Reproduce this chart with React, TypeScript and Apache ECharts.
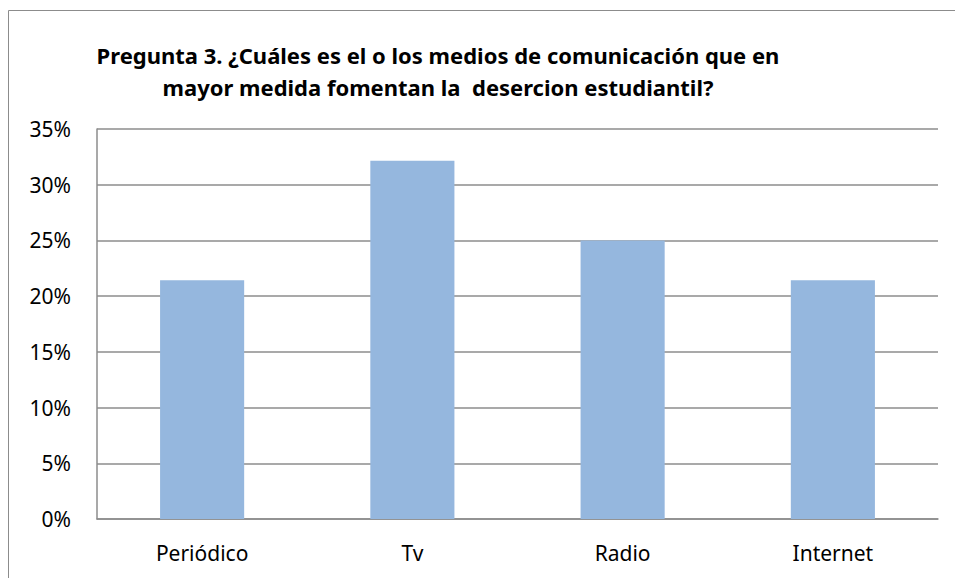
import React, { useEffect, useRef } from "react";
import * as echarts from "echarts";

const categories = ["Periódico", "Tv", "Radio", "Internet"];
const values = [21.43, 32.14, 25.0, 21.43];
const titleLines = [
  "Pregunta 3. ¿Cuáles es el o los medios de comunicación que en",
  "mayor medida fomentan la  desercion estudiantil?",
];

export default function App() {
  const ref = useRef<HTMLDivElement>(null);
  useEffect(() => {
    const chart = echarts.init(ref.current!, null, { renderer: "svg" });
    chart.setOption({
      animation: false,
      backgroundColor: "#ffffff",
      textStyle: { fontFamily: "Noto Sans" },
      graphic: [
        {
          type: "rect",
          shape: { x: 8.5, y: 10.5, width: 1000, height: 1000 },
          style: { fill: "none", stroke: "#8c8c8c", lineWidth: 1 },
          silent: true,
        },
      ],
      title: {
        text: titleLines.join("\n"),
        left: 433,
        top: 34,
        textAlign: "center",
        textStyle: {
          fontFamily: "Noto Sans",
          fontWeight: "bold",
          fontSize: 22,
          lineHeight: 32,
          color: "#000000",
        },
      },
      grid: { left: 97, right: 17, top: 129, bottom: 59, containLabel: false },
      xAxis: {
        type: "category",
        data: categories,
        axisLine: { show: true, lineStyle: { color: "#8c8c8c", width: 1.5 } },
        axisTick: { show: false },
        axisLabel: { fontSize: 21, color: "#000000", margin: 23, fontFamily: "Noto Sans" },
      },
      yAxis: {
        type: "value",
        min: 0,
        max: 35,
        interval: 5,
        axisLine: { show: true, lineStyle: { color: "#8c8c8c", width: 1.5 } },
        axisTick: { show: false },
        axisLabel: {
          fontSize: 21,
          color: "#000000",
          margin: 26,
          formatter: "{value}%",
          fontFamily: "Noto Sans",
        },
        splitLine: { show: true, lineStyle: { color: "#8c8c8c", width: 1.5 } },
      },
      series: [
        {
          type: "bar",
          data: values,
          barWidth: "40%",
          itemStyle: { color: "#95b7de" },
        },
      ],
    });
    return () => chart.dispose();
  }, []);
  return (
    <div
      ref={ref}
      style={{ position: "fixed", left: 0, top: 0, width: 955, height: 578 }}
    />
  );
}
